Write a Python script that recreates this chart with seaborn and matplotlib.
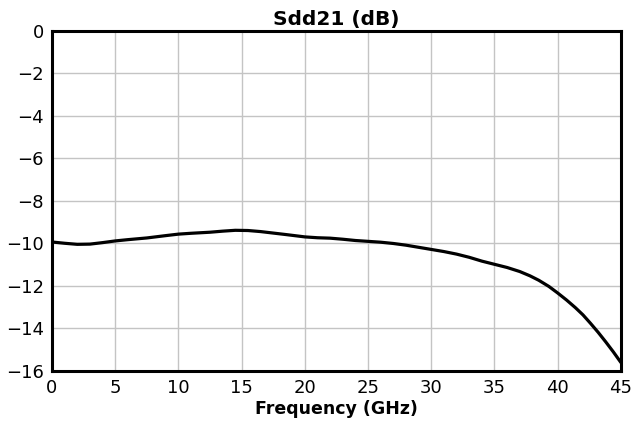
import matplotlib
matplotlib.use("Agg")
import matplotlib.pyplot as plt
import seaborn as sns
import pandas as pd

freq = [0, 1, 2, 3, 4, 5, 6, 7.5, 9, 10, 11, 12.5, 13.5, 14.5, 15.5, 16.5, 17.5, 18.5, 20, 21, 22, 23, 24, 25, 26, 27, 28, 29, 30, 31, 32, 33, 34, 35, 36, 37, 37.8, 38.5, 39.3, 40, 40.7, 41.4, 42, 42.6, 43.2, 43.8, 44.4, 45]
sdd21 = [-9.93, -9.99, -10.04, -10.03, -9.96, -9.88, -9.82, -9.74, -9.63, -9.56, -9.52, -9.47, -9.42, -9.38, -9.39, -9.44, -9.51, -9.58, -9.69, -9.73, -9.75, -9.8, -9.86, -9.9, -9.94, -10.0, -10.08, -10.18, -10.28, -10.38, -10.5, -10.65, -10.83, -10.98, -11.13, -11.32, -11.52, -11.73, -12.02, -12.33, -12.66, -13.02, -13.36, -13.76, -14.18, -14.63, -15.1, -15.6]

df = pd.DataFrame({"Frequency (GHz)": freq, "Sdd21 (dB)": sdd21})

sns.set_style("whitegrid")
plt.rcParams['font.family'] = ['DejaVu Sans']
plt.rcParams['text.color'] = 'black'
plt.rcParams['xtick.color'] = 'black'
plt.rcParams['ytick.color'] = 'black'
plt.rcParams['axes.labelcolor'] = 'black'

fig = plt.figure(figsize=(6.31, 4.24), dpi=100)
ax = fig.add_axes([0.0824, 0.125, 0.9016, 0.802])
sns.lineplot(data=df, x="Frequency (GHz)", y="Sdd21 (dB)", color="black", linewidth=2.3, ax=ax)
ax.set_xlim(0, 45)
ax.set_ylim(-16, 0)
ax.set_xticks(range(0, 46, 5))
ax.set_yticks(range(-16, 1, 2))
ax.grid(True, color="#c4c4c4", linewidth=1)
for s in ax.spines.values():
    s.set_color("black")
    s.set_linewidth(2.2)
ax.tick_params(axis="both", labelsize=13, length=0, pad=6, colors="black")
ax.set_title("Sdd21 (dB)", fontsize=14.5, fontweight="bold", pad=4, color="black")
ax.set_xlabel("Frequency (GHz)", fontsize=12.5, fontweight="bold", labelpad=2, color="black")
ax.set_ylabel("")
fig.savefig("out.png", dpi=100)
